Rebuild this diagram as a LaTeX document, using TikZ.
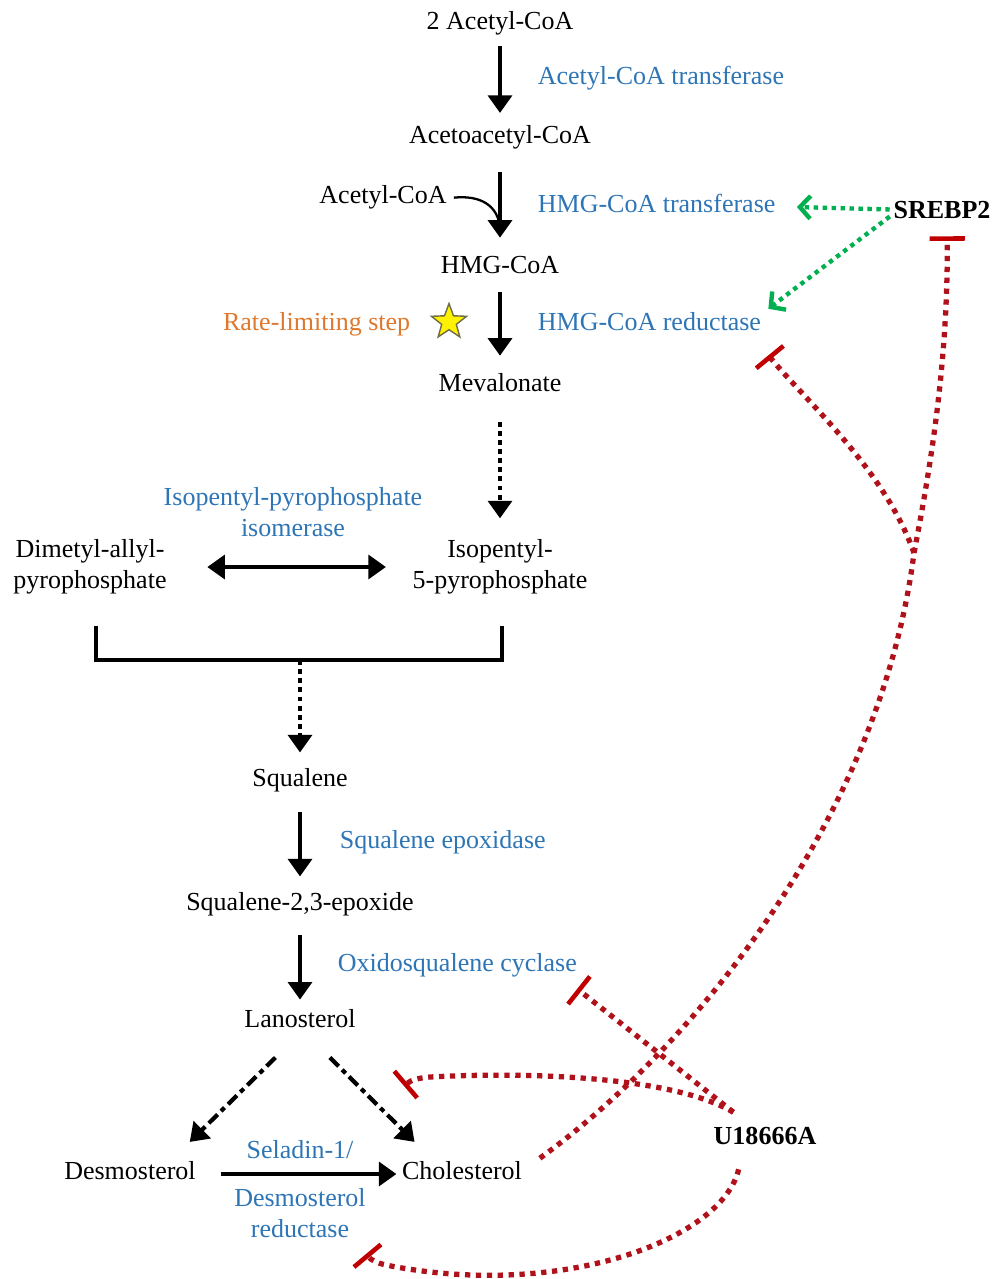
\documentclass[tikz,border=0pt]{standalone}
\usepackage{fontspec}
\setmainfont{Liberation Serif}
\usetikzlibrary{arrows.meta,shapes.geometric}
\definecolor{enzblue}{RGB}{46,117,182}
\definecolor{rateorange}{RGB}{222,120,45}
\definecolor{inhred}{RGB}{176,18,28}
\definecolor{barred}{RGB}{192,0,0}
\definecolor{actgreen}{RGB}{0,176,80}
\newcommand{\pathfont}[0]{\fontsize{14.8pt}{17.5pt}\selectfont}

\begin{document}
\begin{tikzpicture}[x=0.02cm, y=-0.02cm, >={Triangle[width=13.5pt,length=10pt]}]
  \tikzset{met/.style={font=\pathfont, inner sep=2pt, text height=10.4pt, text depth=3.7pt},
    met2/.style={font=\pathfont, inner sep=2pt, align=center},
    enz/.style={met, text=enzblue},
    enz2/.style={met2, text=enzblue},
    rate/.style={met, text=rateorange},
    reg/.style={met, font=\pathfont\bfseries},
    rxn/.style={->, line width=2.4pt, shorten <=3pt, shorten >=5pt},
    dotrxn/.style={rxn, dash pattern=on 2.8pt off 2.4pt},
    dashdotrxn/.style={rxn, dash pattern=on 7pt off 2.8pt on 2.8pt off 2.8pt},
    inh/.style={draw=inhred, line width=3pt, dash pattern=on 3pt off 3.2pt,
      -{Bar[width=20pt,line width=2.6pt,color=barred]}},
    act/.style={draw=actgreen, line width=2.5pt, dash pattern=on 2.5pt off 2.6pt,
      -{Straight Barb[width=13pt,length=6pt,line width=2.5pt]}}}
  \useasboundingbox (0,0) rectangle (995,1279);

  \node[met](acCoA-2) at (500,24) {2 Acetyl-CoA};
  \node[met](acacCoA) at (500,138) {Acetoacetyl-CoA};
  \node[met](acCoA-1) at (383,198) {Acetyl-CoA};
  \node[met](hmgCoA) at (500,268) {HMG-CoA};
  \node[met](meval) at (500,386) {Mevalonate};
  \node[met2](dmapp) at (90,567) {Dimetyl-allyl-\\pyrophosphate};
  \node[met2](ipp) at (500,567) {Isopentyl-\\5-pyrophosphate};
  \node[met](squal) at (300,781) {Squalene};
  \node[met](epox) at (300,905) {Squalene-2,3-epoxide};
  \node[met](lano) at (300,1022) {Lanosterol};
  \node[met](desmo) at (130,1174) {Desmosterol};
  \node[met](chol) at (462,1174) {Cholesterol};
  \node[reg](srebp) at (942,213) {SREBP2};
  \node[reg](u18) at (765,1139) {U18666A};

  \node[enz, anchor=west](acat) at (534,79) {Acetyl-CoA transferase};
  \node[enz, anchor=west](hmgt) at (534,207) {HMG-CoA transferase};
  \node[enz, anchor=west](hmgr) at (534,325) {HMG-CoA reductase};
  \node[enz2](ippi) at (293,512) {Isopentyl-pyrophosphate\\isomerase};
  \node[enz, anchor=west](sqle) at (336,843) {Squalene epoxidase};
  \node[enz, anchor=west](osc) at (334,966) {Oxidosqualene cyclase};
  \node[enz](seladin) at (300,1153) {Seladin-1/};
  \node[enz2](dhcr) at (300,1213) {Desmosterol\\reductase};
  \node[rate, anchor=east](rate) at (414,325) {Rate-limiting step};
  \node[star, star points=5, star point ratio=2.4, fill=yellow, draw=black!65!yellow,
    line width=0.8pt, minimum size=21pt, inner sep=0pt](star) at (449,322) {};

  \coordinate (join) at (500,228);
  \coordinate (br-L) at (96,626);
  \coordinate (br-M) at (300,660);
  \coordinate (br-R) at (502,626);
  \coordinate (split) at (914,553);
  \coordinate (lc-T) at (404,1086);
  \coordinate (dr-T) at (366,1254);

  \draw[rxn] (acCoA-2) -- (acacCoA);
  \draw[rxn, shorten <=10pt, shorten >=8pt] (acacCoA) -- (hmgCoA);
  \draw[line width=1.3pt, shorten <=2pt] (acCoA-1.east) .. controls (480,195) and (498,205) .. (join);
  \draw[rxn, shorten <=4.5pt, shorten >=8pt] (hmgCoA) -- (meval);
  \draw[dotrxn, shorten <=11pt, shorten >=10pt] (meval) -- (ipp);
  \draw[rxn, <->, shorten <=21pt, shorten >=13pt] (dmapp) -- (ipp);
  \draw[line width=2.4pt] (br-L) |- (br-M) -| (br-R);
  \draw[dotrxn, shorten <=0pt, shorten >=7pt] (br-M) -- (squal);
  \draw[rxn, shorten <=8.5pt, shorten >=7pt] (squal) -- (epox);
  \draw[rxn, shorten <=8pt, shorten >=3.5pt] (epox) -- (lano);
  \draw[dashdotrxn, shorten <=0pt, shorten >=0pt] ([xshift=-14pt,yshift=-11pt]lano.south) -- ([xshift=34pt,yshift=9pt]desmo.north);
  \draw[dashdotrxn, shorten <=0pt, shorten >=0pt] ([xshift=17pt,yshift=-11pt]lano.south) -- ([xshift=-27pt,yshift=9pt]chol.north);
  \draw[rxn, shorten <=12pt, shorten >=1pt] (desmo) -- (chol);

  \draw[act] ([yshift=2pt]srebp.west) -- ([xshift=10pt]hmgt.east);
  \draw[act] ([yshift=-2pt]srebp.west) -- ([xshift=2pt]hmgr.north east);

  \draw[inh] ([xshift=8pt,yshift=9pt]chol.east) .. controls (690,1050) and (880,820) .. (split)
    .. controls (934,450) and (948,350) .. ([xshift=3pt,yshift=-4pt]srebp.south);
  \draw[inh] (split) .. controls (885,470) and (805,400) .. ([xshift=2pt,yshift=-8pt]hmgr.south east);
  \draw[inh] ([xshift=-18pt,yshift=6pt]u18.north) -- ([xshift=-2pt,yshift=-13pt]osc.east);
  \draw[inh] ([xshift=-18pt,yshift=6pt]u18.north) .. controls (670,1075) and (520,1072) .. (430,1077)
    .. controls (418,1078) and (411,1080) .. (lc-T);
  \draw[inh] ([xshift=-15pt,yshift=-8pt]u18.south) .. controls (722,1240) and (560,1300) .. (386,1265)
    .. controls (377,1263) and (371,1260) .. (dr-T);
\end{tikzpicture}
\end{document}
